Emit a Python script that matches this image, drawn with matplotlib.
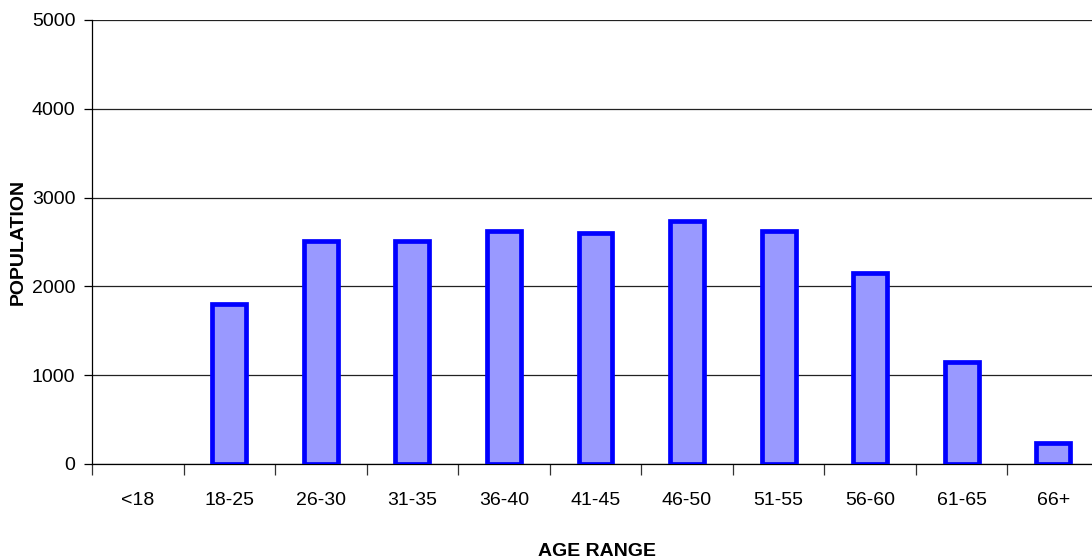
import matplotlib
matplotlib.use("Agg")
import matplotlib.pyplot as plt
import numpy as np

categories = ["<18", "18-25", "26-30", "31-35", "36-40", "41-45", "46-50", "51-55", "56-60", "61-65", "66+"]
population = [0, 1800, 2515, 2515, 2625, 2605, 2735, 2625, 2150, 1145, 235]
yticks = [0, 1000, 2000, 3000, 4000, 5000]

plt.rcParams['font.family'] = ['Liberation Sans', 'DejaVu Sans']

fig = plt.figure(figsize=(10.92, 5.58), dpi=100)
W, H = 1092, 558
left, right, top, bottom = 92, 1099, 20, 464
ax = fig.add_axes([left / W, 1 - bottom / H, (right - left) / W, (bottom - top) / H])

x = np.arange(len(categories))
vals = np.array(population, dtype=float)
lws = [3.4 if v > 0 else 0 for v in vals]
ax.bar(x, vals, width=0.37, color="#9999FF", edgecolor="#0000FF", linewidth=lws, zorder=3)

ax.set_xlim(-0.5, len(categories) - 0.5)
ax.set_ylim(0, 5000)
ax.set_yticks(yticks)
ax.set_yticklabels([str(v) for v in yticks], fontsize=14)
ax.yaxis.grid(True, color="#222222", linewidth=0.9, zorder=0)
ax.tick_params(axis='y', direction='out', length=6, width=0.9, pad=6, colors='black')

ax.set_xticks(x)
ax.set_xticklabels(categories, fontsize=14)
ax.tick_params(axis='x', which='major', length=0, pad=20)
ax.set_xticks(np.arange(len(categories) + 1) - 0.5, minor=True)
ax.tick_params(axis='x', which='minor', direction='out', length=8, width=0.9, color='#333333')

for s in ['top', 'right']:
    ax.spines[s].set_visible(False)
ax.spines['left'].set_linewidth(0.9)
ax.spines['bottom'].set_linewidth(0.9)

fig.text(597 / W, 1 - 551 / H, "AGE RANGE", fontsize=14, fontweight='bold', ha='center', va='center')
fig.text(18 / W, 1 - 242 / H, "POPULATION", fontsize=14, fontweight='bold', ha='center', va='center', rotation=90)

fig.savefig("out.png", dpi=100)
